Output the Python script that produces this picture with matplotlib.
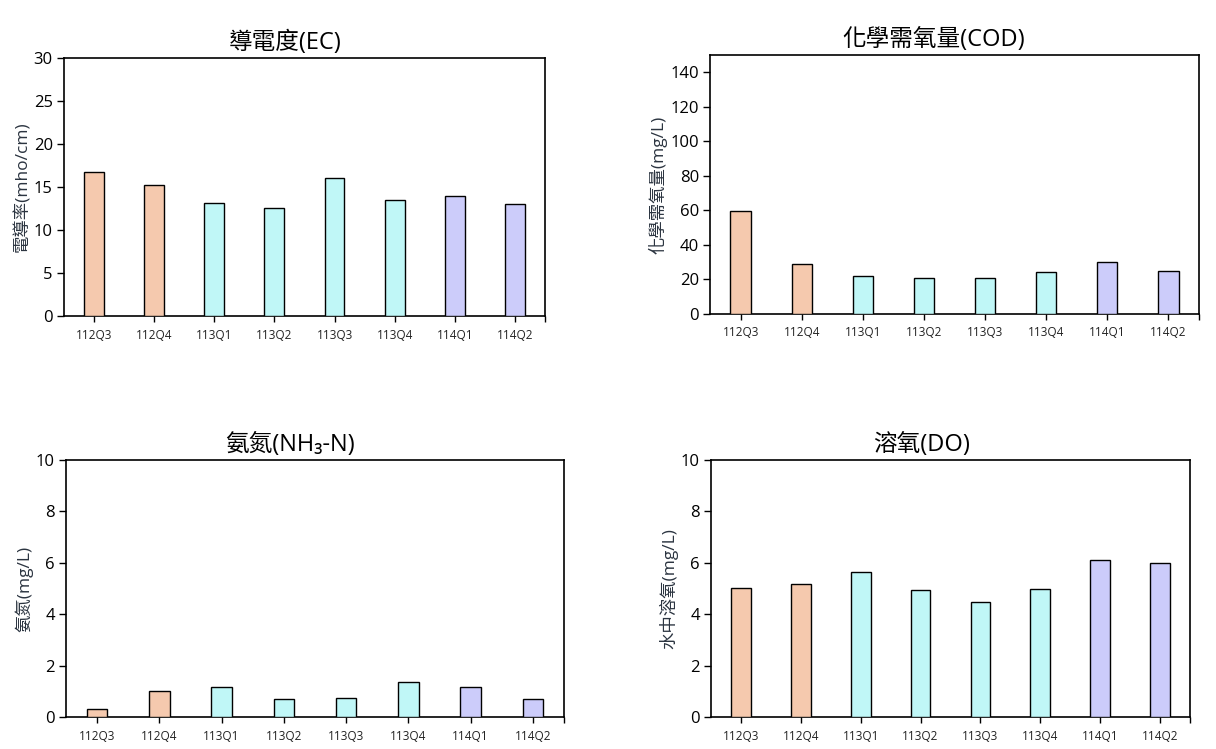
import matplotlib
matplotlib.use("Agg")
import matplotlib.pyplot as plt
import numpy as np

plt.rcParams['font.family'] = ['Open Sans', 'Noto Sans CJK TC', 'DejaVu Sans']

quarters = ['112Q3', '112Q4', '113Q1', '113Q2', '113Q3', '113Q4', '114Q1', '114Q2']
bar_colors = ['#F5C9AE', '#F5C9AE', '#C0F7F7', '#C0F7F7', '#C0F7F7', '#C0F7F7', '#CCCCFA', '#CCCCFA']

ec_values = [16.8, 15.2, 13.1, 12.5, 16.0, 13.5, 14.0, 13.0]
cod_values = [59.5, 28.8, 21.8, 20.7, 20.7, 24.1, 29.9, 24.7]
nh3_values = [0.30, 1.00, 1.16, 0.69, 0.73, 1.36, 1.16, 0.69]
do_values = [5.02, 5.17, 5.64, 4.94, 4.47, 4.98, 6.11, 5.99]

ec_ticks = [0, 5, 10, 15, 20, 25, 30]
cod_ticks = [0, 20, 40, 60, 80, 100, 120, 140]
ten_ticks = [0, 2, 4, 6, 8, 10]

panels = [
    # values, title, ylabel, ymax, yticks, axes rect, title x
    (ec_values, '導電度(EC)', '電導率(mho/cm)', 30, ec_ticks, [0.0526, 0.5781, 0.3956, 0.3445], 0.46),
    (cod_values, '化學需氧量(COD)', '化學需氧量(mg/L)', 150, cod_ticks, [0.5839, 0.5808, 0.4021, 0.3458], 0.458),
    (nh3_values, '氨氮(NH₃-N)', '氨氮(mg/L)', 10, ten_ticks, [0.0543, 0.0427, 0.4095, 0.3431], 0.45),
    (do_values, '溶氧(DO)', '水中溶氧(mg/L)', 10, ten_ticks, [0.5847, 0.0427, 0.3939, 0.3431], 0.44),
]

fig = plt.figure(figsize=(12.16, 7.49), dpi=100)

x = np.arange(len(quarters))
for vals, title, ylabel, ymax, yticks, rect, tx in panels:
    ax = fig.add_axes(rect)
    ax.bar(x, vals, width=0.33, color=bar_colors, edgecolor='black', linewidth=1.0, zorder=3)
    ax.set_xlim(-0.5, len(quarters) - 0.5)
    ax.set_ylim(0, ymax)
    ax.set_yticks(yticks)
    ax.set_xticks(x)
    ax.set_xticklabels(quarters, fontsize=8.5, color='#222222')
    ax.set_xticks([len(quarters) - 0.5], minor=True)
    ax.tick_params(axis='y', direction='out', length=5, width=1, labelsize=12, pad=3)
    ax.tick_params(axis='x', which='both', direction='out', length=4, width=1, pad=5)
    for s in ax.spines.values():
        s.set_linewidth(1.2)
        s.set_color('black')
    ax.set_ylabel(ylabel, fontsize=12.5, color='#2b3440', labelpad=2)
    ax.text(tx, 1.01, title, transform=ax.transAxes, ha='center', va='bottom', fontsize=17)

fig.savefig('out.png', dpi=100)
